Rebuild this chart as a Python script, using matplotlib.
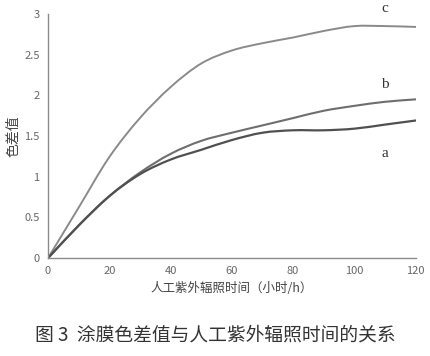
import matplotlib
matplotlib.use("Agg")
import matplotlib.pyplot as plt
from matplotlib.path import Path
from matplotlib.patches import PathPatch

plt.rcParams['font.family'] = ['Noto Sans CJK SC', 'DejaVu Sans']

hours = [0, 10, 20, 30, 40, 50, 60, 70, 80, 90, 100, 110, 120]
series_a = [0, 0.40, 0.76, 1.03, 1.21, 1.33, 1.45, 1.54, 1.57, 1.57, 1.59, 1.64, 1.69]
series_b = [0, 0.40, 0.76, 1.05, 1.28, 1.44, 1.54, 1.63, 1.72, 1.81, 1.87, 1.92, 1.95]
series_c = [0, 0.62, 1.24, 1.72, 2.10, 2.39, 2.55, 2.64, 2.71, 2.79, 2.85, 2.85, 2.84]
x_ticks = [0, 20, 40, 60, 80, 100, 120]
y_ticks = [0, 0.5, 1, 1.5, 2, 2.5, 3]
y_tick_labels = ['0', '0.5', '1', '1.5', '2', '2.5', '3']


def smooth_path(xs, ys):
    """Catmull-Rom style smoothed line (like a spreadsheet 'smooth line') as Bezier path."""
    pts = list(zip(xs, ys))
    n = len(pts)
    first = (2 * pts[0][0] - pts[1][0], 2 * pts[0][1] - pts[1][1])
    last = (2 * pts[-1][0] - pts[-2][0], 2 * pts[-1][1] - pts[-2][1])
    ext = [first] + pts + [last]
    verts = [pts[0]]
    codes = [Path.MOVETO]
    for i in range(1, n):
        p0, p1, p2, p3 = ext[i - 1], ext[i], ext[i + 1], ext[i + 2]
        c1 = (p1[0] + (p2[0] - p0[0]) / 6.0, p1[1] + (p2[1] - p0[1]) / 6.0)
        c2 = (p2[0] - (p3[0] - p1[0]) / 6.0, p2[1] - (p3[1] - p1[1]) / 6.0)
        verts += [c1, c2, p2]
        codes += [Path.CURVE4, Path.CURVE4, Path.CURVE4]
    return Path(verts, codes)


fig = plt.figure(figsize=(4.3, 3.56), dpi=100)
ax = fig.add_axes([0.1116, 0.275, 0.855, 0.686])

for ys, col, lw in [(series_c, '#8a8a8a', 1.4), (series_b, '#6e6e6e', 1.5), (series_a, '#505050', 1.6)]:
    ax.add_patch(PathPatch(smooth_path(hours, ys), facecolor='none', edgecolor=col, lw=lw,
                           capstyle='round', joinstyle='round'))

ax.set_xlim(0, 120)
ax.set_ylim(0, 3)
ax.set_xticks(x_ticks)
ax.set_yticks(y_ticks)
ax.set_yticklabels(y_tick_labels)
ax.tick_params(length=0, labelsize=8, labelcolor='#666666', pad=6)
for s in ['top', 'right']:
    ax.spines[s].set_visible(False)
for s in ['left', 'bottom']:
    ax.spines[s].set_color('#8a8a8a')
    ax.spines[s].set_linewidth(1.0)

ax.set_ylabel('色差值', fontsize=10, color='#444444', labelpad=3)
ax.set_xlabel('人工紫外辐照时间（小时/h）', fontsize=9, color='#444444', labelpad=4)

serif = ['Liberation Serif', 'DejaVu Serif']
ax.text(110, 3.07, 'c', fontsize=11, family=serif, color='#333333', ha='center', va='center', clip_on=False)
ax.text(110, 2.13, 'b', fontsize=11, family=serif, color='#333333', ha='center', va='center')
ax.text(110, 1.29, 'a', fontsize=11, family=serif, color='#333333', ha='center', va='center')

fig.text(0.5, 0.058, '图 3  涂膜色差值与人工紫外辐照时间的关系', ha='center', va='center',
         fontsize=13.5, color='#333333')

fig.savefig('out.png', dpi=100, facecolor='white')
